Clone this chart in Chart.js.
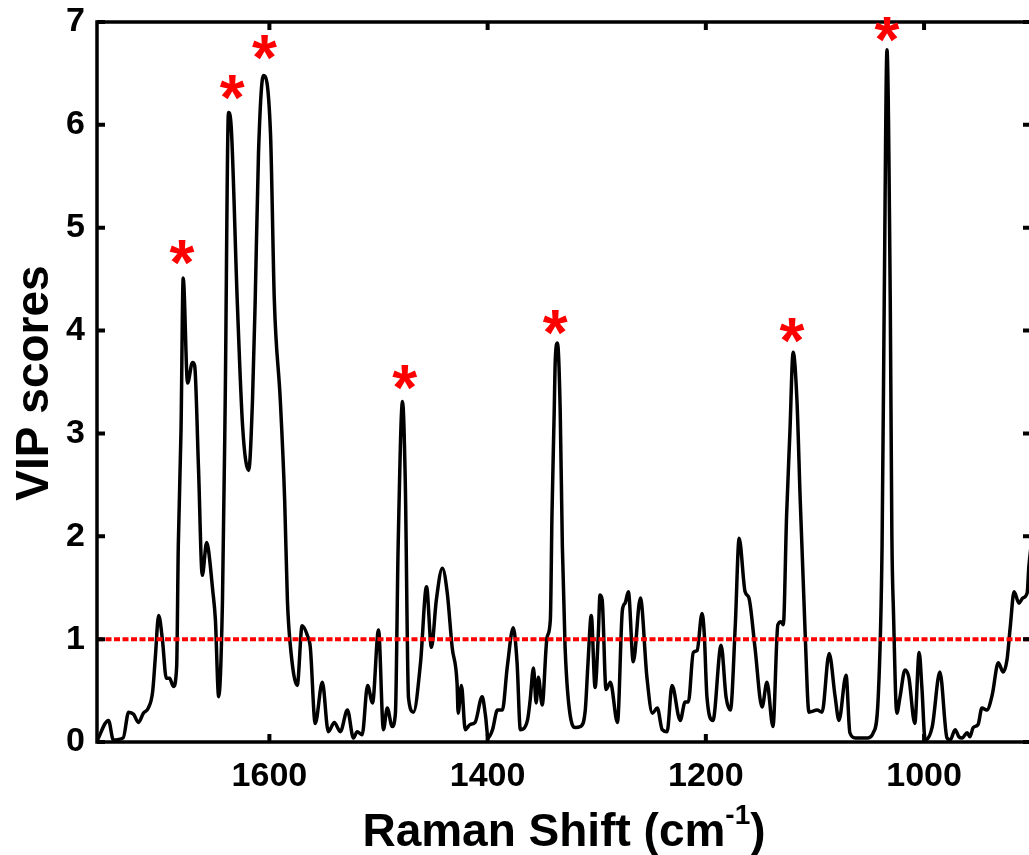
<!DOCTYPE html>
<html>
<head>
<meta charset="utf-8">
<title>VIP scores</title>
<script src="https://cdn.jsdelivr.net/npm/chart.js@4"></script>
<style>
  html, body { margin: 0; padding: 0; background: #fff; overflow: hidden; }
  #wrap { width: 1040px; height: 855px; }
</style>
</head>
<body>
<div id="wrap"><canvas id="vipChart" width="1040" height="855"></canvas></div>
<script>
const ramanShift = [
  1758, 1747.5, 1743, 1734, 1729, 1724.5, 1720, 1715.5, 1711, 1707, 1704.5, 1701.5, 1698, 1694.5,
  1691.5, 1688, 1685, 1683.5, 1681, 1679, 1675, 1670.5, 1668.5, 1665, 1661.5, 1657.5, 1656, 1652,
  1649.5, 1646.5, 1643, 1640.5, 1637.5, 1635, 1629.5, 1624.5, 1619, 1615.5, 1613, 1610, 1605.5, 1599,
  1595.5, 1590, 1586, 1583.5, 1581, 1574.5, 1570, 1565, 1562.5, 1558, 1551.5, 1546, 1540.5, 1535,
  1528.5, 1523, 1519.5, 1515, 1510, 1505.5, 1500, 1495.5, 1492, 1487.5, 1484.5, 1482, 1478, 1475.5,
  1472.5, 1468, 1461.5, 1456, 1451.5, 1447, 1441.5, 1437, 1432.5, 1428, 1427, 1424, 1420.5, 1416,
  1411.5, 1405, 1402, 1399.5, 1395.5, 1391, 1386.5, 1382, 1376.5, 1373, 1370, 1363.5, 1361, 1358,
  1355.5, 1353.5, 1350, 1345.5, 1342.5, 1341, 1339, 1338, 1336, 1333.5, 1331.5, 1329, 1323.5, 1319.5,
  1315, 1310.5, 1308, 1305, 1301.5, 1298.5, 1297, 1295, 1291.5, 1287.5, 1281, 1276.5, 1274, 1271,
  1266.5, 1260, 1254, 1249, 1244.5, 1240, 1235.5, 1231, 1223.5, 1219, 1216, 1211.5, 1208, 1203.5,
  1201.5, 1199, 1193.5, 1186, 1181.5, 1177.5, 1173, 1169.5, 1164, 1160.5, 1155, 1148.5, 1144, 1138.5,
  1134, 1131, 1129, 1126, 1123, 1120, 1116.5, 1113.5, 1109, 1105.5, 1098, 1093.5, 1087, 1081.5,
  1078, 1071.5, 1068, 1063, 1051.5, 1046.5, 1042, 1038.5, 1036.5, 1034, 1031, 1029.5, 1028, 1025,
  1022, 1017.5, 1014, 1008.5, 1004.5, 1002, 999, 992.5, 985.5, 979, 976, 971.5, 968, 965,
  960.5, 958, 955, 950.5, 947, 942.5, 937.5, 932, 927.5, 924, 921, 917.5, 913, 909.5,
  905.5, 904, 902
];
const vipScores = [
  0.01, 0.21, 0.02, 0.04, 0.29, 0.27, 0.19, 0.28, 0.33, 0.49, 0.83, 1.23, 0.99, 0.62,
  0.62, 0.54, 0.73, 1.9, 3.03, 4.51, 3.49, 3.69, 3.66, 2.67, 1.62, 1.94, 1.88, 1.48,
  1.19, 0.44, 1.38, 3.32, 6.12, 5.98, 4.3, 3.06, 2.64, 3.32, 4.3, 5.72, 6.48, 5.92,
  4.3, 3.32, 2.35, 1.38, 0.96, 0.55, 1.13, 1.03, 0.92, 0.18, 0.58, 0.1, 0.19, 0.1,
  0.31, 0.04, 0.1, 0.07, 0.55, 0.38, 1.09, 0.12, 0.33, 0.15, 0.28, 1.9, 3.31, 2.55,
  0.43, 0.29, 0.77, 1.51, 0.92, 1.38, 1.69, 1.45, 0.92, 0.57, 0.28, 0.55, 0.12, 0.17,
  0.19, 0.44, 0.26, 0.04, 0.12, 0.31, 0.31, 0.73, 1.11, 0.77, 0.12, 0.21, 0.41, 0.72,
  0.38, 0.63, 0.36, 1.02, 1.19, 2.22, 3.2, 3.71, 3.88, 3.23, 1.9, 0.92, 0.21, 0.14,
  0.15, 0.31, 0.77, 1.23, 0.53, 1.06, 1.43, 1.38, 0.51, 0.58, 0.19, 1.28, 1.35, 1.46,
  0.78, 1.40, 0.63, 0.28, 0.33, 0.12, 0.1, 0.55, 0.21, 0.39, 0.39, 0.87, 0.89, 1.25,
  1.06, 0.44, 0.21, 0.94, 0.44, 0.31, 1.14, 1.98, 1.46, 1.40, 0.92, 0.34, 0.58, 0.15,
  1.14, 1.17, 1.14, 2.2, 3.0, 3.79, 3.32, 2.35, 1.06, 0.29, 0.31, 0.29, 0.86, 0.44,
  0.21, 0.65, 0.09, 0.04, 0.04, 0.09, 0.44, 1.9, 4.3, 6.73, 4.3, 2.0, 1.25, 0.28,
  0.44, 0.7, 0.63, 0.18, 0.87, 0.53, 0.02, 0.15, 0.68, 0.04, 0.02, 0.12, 0.05, 0.04,
  0.09, 0.05, 0.14, 0.17, 0.33, 0.31, 0.46, 0.77, 0.68, 0.80, 1.12, 1.46, 1.35, 1.40,
  1.45, 1.70, 1.9
];

// red asterisks above the selected peaks
const starShift = [1680, 1634, 1604.5, 1476, 1338, 1121, 1034];
const starScore = [4.76, 6.36, 6.75, 3.54, 4.08, 4.0, 6.93];

const threshold = 1;
const xMin = 902;
const xMax = 1758;
const xTicks = [1600, 1400, 1200, 1000];
const yTicks = [0, 1, 2, 3, 4, 5, 6, 7];

const FONT = '"Liberation Sans", Arial, Helvetica, sans-serif';

const curve = ramanShift.map((x, i) => ({ x: x, y: vipScores[i] }));
const stars = starShift.map((x, i) => ({ x: x, y: starScore[i] }));

// box round the plot with inward ticks on all four sides
const framePlugin = {
  id: 'frame',
  afterDatasetsDraw(chart) {
    const { ctx, chartArea: a, scales } = chart;
    ctx.save();
    ctx.strokeStyle = '#000';
    ctx.lineWidth = 3.5;
    ctx.strokeRect(a.left, a.top, a.right - a.left, a.bottom - a.top);
    ctx.lineWidth = 4;
    ctx.beginPath();
    scales.x.ticks.forEach(t => {
      const px = scales.x.getPixelForValue(t.value);
      ctx.moveTo(px, a.bottom); ctx.lineTo(px, a.bottom - 8);
      ctx.moveTo(px, a.top); ctx.lineTo(px, a.top + 8);
    });
    scales.y.ticks.forEach(t => {
      const py = scales.y.getPixelForValue(t.value);
      ctx.moveTo(a.left, py); ctx.lineTo(a.left + 8, py);
      ctx.moveTo(a.right, py); ctx.lineTo(a.right - 8, py);
    });
    ctx.stroke();
    ctx.restore();
  }
};

// draws a "*" at every point of the star dataset
const starPlugin = {
  id: 'stars',
  afterDatasetsDraw(chart) {
    const ctx = chart.ctx;
    const meta = chart.getDatasetMeta(2);
    ctx.save();
    ctx.font = 'bold 64px ' + FONT;
    ctx.fillStyle = '#ff0000';
    ctx.textAlign = 'left';
    ctx.textBaseline = 'alphabetic';
    const m = ctx.measureText('*');
    const w = m.actualBoundingBoxRight + m.actualBoundingBoxLeft;
    const h = m.actualBoundingBoxAscent + m.actualBoundingBoxDescent;
    meta.data.forEach(pt => {
      const x = pt.x - w / 2 + m.actualBoundingBoxLeft;
      const y = pt.y - h / 2 + m.actualBoundingBoxAscent;
      ctx.fillText('*', x, y);
    });
    ctx.restore();
  }
};

// axis titles (x title needs a superscript)
const titlePlugin = {
  id: 'titles',
  afterDraw(chart) {
    const ctx = chart.ctx;
    const a = chart.chartArea;
    ctx.save();
    ctx.fillStyle = '#000';
    ctx.textBaseline = 'alphabetic';
    ctx.textAlign = 'left';

    const big = 'bold 46px ' + FONT;
    const small = 'bold 28px ' + FONT;
    const t1 = 'Raman Shift (cm', t2 = '-1', t3 = ')';
    ctx.font = big;
    const w1 = ctx.measureText(t1).width, w3 = ctx.measureText(t3).width;
    ctx.font = small;
    const w2 = ctx.measureText(t2).width;
    const cx = (a.left + a.right) / 2;
    let x = cx - (w1 + w2 + w3) / 2;
    const base = 846;
    ctx.font = big; ctx.fillText(t1, x, base); x += w1;
    ctx.font = small; ctx.fillText(t2, x, base - 22); x += w2;
    ctx.font = big; ctx.fillText(t3, x, base);

    ctx.translate(48, 383);
    ctx.rotate(-Math.PI / 2);
    ctx.textAlign = 'center';
    ctx.font = big;
    ctx.fillText('VIP scores', 0, 0);
    ctx.restore();
  }
};

new Chart(document.getElementById('vipChart'), {
  type: 'line',
  data: {
    datasets: [
      {
        label: 'threshold',
        data: [{ x: xMax, y: threshold }, { x: xMin, y: threshold }],
        borderColor: '#ff0000',
        borderWidth: 4,
        borderDash: [6, 2.5],
        pointRadius: 0,
        order: 0
      },
      {
        label: 'VIP scores',
        data: curve,
        borderColor: '#000',
        borderWidth: 3.5,
        borderJoinStyle: 'round',
        cubicInterpolationMode: 'monotone',
        pointRadius: 0,
        order: 1
      },
      {
        label: 'selected peaks',
        data: stars,
        showLine: false,
        pointRadius: 0,
        order: 2
      }
    ]
  },
  options: {
    responsive: false,
    animation: false,
    layout: { padding: { left: 0, right: 9, top: 22, bottom: 0 } },
    plugins: { legend: { display: false }, tooltip: { enabled: false } },
    scales: {
      x: {
        type: 'linear',
        reverse: true,
        min: xMin,
        max: xMax,
        afterBuildTicks: s => { s.ticks = xTicks.map(v => ({ value: v })); },
        afterFit: s => { s.height = 113; s.paddingLeft = 0; s.paddingRight = 0; },
        grid: { display: false, drawTicks: false },
        border: { display: false },
        ticks: {
          color: '#000',
          padding: 14,
          maxRotation: 0,
          callback: v => String(v),
          font: { family: FONT, size: 34, weight: 'bold' }
        }
      },
      y: {
        min: 0,
        max: 7,
        afterBuildTicks: s => { s.ticks = yTicks.map(v => ({ value: v })); },
        afterFit: s => { s.width = 97; s.paddingTop = 0; s.paddingBottom = 0; },
        grid: { display: false, drawTicks: false },
        border: { display: false },
        ticks: {
          color: '#000',
          padding: 12,
          callback: v => String(v),
          font: { family: FONT, size: 34, weight: 'bold' }
        }
      }
    }
  },
  plugins: [framePlugin, starPlugin, titlePlugin]
});
</script>
</body>
</html>
